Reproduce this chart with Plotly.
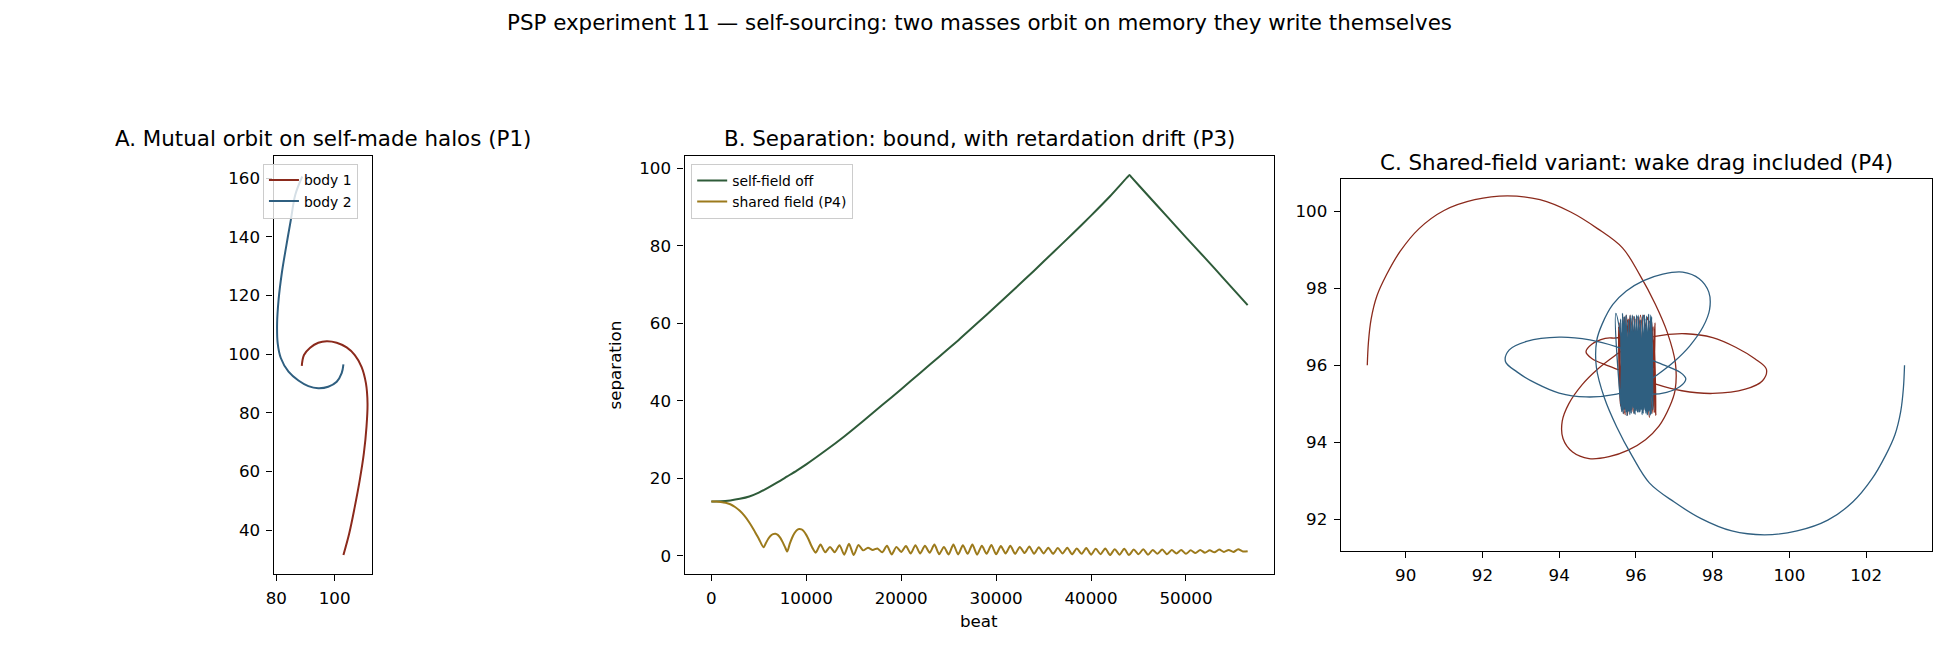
import plotly.graph_objects as go

FONT = "DejaVu Sans"
W, H = 1950, 650

# ---------------- colours ----------------
C_RED = "#8b2a1c"
C_BLUE = "#2f5f80"
C_GREEN = "#2e5b39"
C_GOLD = "#9c7a1c"

# ---------------- Panel A: mutual orbit (P1) ----------------
a_body1_x = [88.75, 89.5, 91.6, 94.4, 97.3, 100.7, 104.1, 106.9, 109.2, 110.7, 111.25, 110.9,
             110.0, 108.6, 106.9, 105.0, 103.0]
a_body1_y = [96.0, 99.7, 102.2, 103.9, 104.4, 103.9, 102.3, 99.7, 95.7, 90.1, 83.2, 75.3,
             66.2, 57.1, 48.0, 38.9, 31.5]
a_body2_x = [103.0, 102.4, 100.7, 97.8, 94.4, 91.0, 87.6, 84.2, 81.6, 80.5, 80.3, 80.8,
             81.9, 83.4, 85.0, 86.5, 88.9]
a_body2_y = [96.5, 93.5, 90.6, 88.9, 88.4, 89.1, 91.0, 94.0, 98.6, 103.7, 110.5, 118.5,
             127.6, 136.7, 145.8, 154.3, 160.6]

# ---------------- Panel B: separation ----------------
b_off_x = [0, 1000, 2000, 3000, 4000, 5000, 6000, 7000, 8000, 9000, 10000, 12000, 14000,
           16000, 18000, 20000, 22000, 24000, 26000, 28000, 30000, 32000, 34000, 36000,
           38000, 40000, 42000, 43850, 44050, 44250, 46000, 48000, 50000, 52000, 54000, 56500]
b_off_y = [14.0, 14.05, 14.3, 14.7, 15.3, 16.3, 17.6, 19.0, 20.5, 22.0, 23.6, 27.1, 30.8,
           34.8, 38.9, 43.0, 47.2, 51.4, 55.6, 60.0, 64.5, 69.0, 73.6, 78.3,
           83.0, 87.8, 92.8, 97.8, 98.3, 97.76, 93.0, 87.6, 82.2, 76.9, 71.5, 64.7]

b_shared_x = [0, 500, 1000, 1500, 2000, 2500, 3000, 3500, 4000, 4500, 5000, 5500, 5750, 6000,
              6250, 6500, 6750, 7000, 7250, 7500, 7750, 8000, 8250, 8500, 8750, 9000, 9250,
              9500, 9750, 10000, 10250, 10500, 10750, 11000,
              11500, 12000, 12500, 13000, 13500, 14000, 14500, 15000, 15500, 16000, 16500,
              17000, 17500, 18000, 18500, 19000, 19500, 20000, 20500, 21000, 21500, 22000,
              22500, 23000, 23500, 24000, 24500, 25000, 25500, 26000, 26500, 27000, 27500,
              28000, 28500, 29000, 29500, 30000, 30500, 31000, 31500, 32000, 32500, 33000,
              33500, 34000, 34500, 35000, 35500, 36000, 36500, 37000, 37500, 38000, 38500,
              39000, 39500, 40000, 40500, 41000, 41500, 42000, 42500, 43000, 43500, 44000,
              44500, 45000, 45500, 46000, 46500, 47000, 47500, 48000, 48500, 49000, 49500,
              50000, 50500, 51000, 51500, 52000, 52500, 53000, 53500, 54000, 54500, 55000,
              55500, 56000, 56500]
b_shared_y = [14.0, 14.0, 13.9, 13.7, 13.3, 12.6, 11.6, 10.3, 8.6, 6.6, 4.4, 2.2, 3.3, 4.4,
              5.2, 5.6, 5.7, 5.4, 4.7, 3.6, 2.3, 1.1, 3.0, 4.6, 5.8, 6.6, 6.9,
              6.8, 6.3, 5.4, 4.2, 2.8, 1.6, 0.8,
              2.9, 0.9, 2.3, 0.9, 2.75, 0.3, 3.1, 0.2, 2.8, 1.4, 2.1,
              1.5, 1.9, 0.9, 2.6, 0.35, 2.3, 1.0, 2.5, 0.6, 2.75, 0.6,
              2.6, 0.8, 2.9, 0.4, 2.3, 0.35, 2.9, 0.35, 2.7, 0.5, 2.9,
              0.3, 2.6, 0.5, 2.8, 0.4, 2.5, 0.6, 2.6, 0.5, 2.3, 0.7,
              2.4, 0.5, 2.2, 0.6, 2.1, 0.5, 2.0, 0.6, 2.1, 0.4, 1.9,
              0.5, 2.0, 0.3, 1.8, 0.4, 1.9, 0.2, 1.7, 0.3, 1.8, 0.2,
              1.6, 0.4, 1.7, 0.3, 1.5, 0.5, 1.6, 0.4, 1.5, 0.6, 1.5,
              0.5, 1.4, 0.7, 1.5, 0.8, 1.4, 0.9, 1.6, 1.0, 1.5, 1.0,
              1.7, 1.1, 1.2]

# ---------------- Panel C: shared-field variant (P4) ----------------
c_body1_x = [89.0, 89.03, 89.1, 89.25, 89.5, 89.85, 90.35, 91.0, 91.8, 92.65, 93.5, 94.3, 95.0,
             95.65, 96.1, 96.5, 96.82, 97.03, 97.02, 96.88, 96.6, 96.25, 95.8, 95.3, 94.78,
             94.35, 94.1, 94.08, 94.25, 94.6, 95.0, 95.45, 95.9, 96.5, 97.3, 98.0, 98.6, 99.1,
             99.4, 99.3, 98.85, 98.0, 97.2, 96.5, 95.9, 95.3, 94.85, 94.7, 94.85, 95.2, 95.6,
             95.7, 95.62, 95.85, 95.78, 96.0, 96.1, 96.3, 96.42, 96.5, 96.35, 96.2, 96.05,
             95.9, 95.68, 95.55, 95.6, 95.75, 95.9, 96.05, 96.25, 96.4, 96.52, 96.45, 96.3,
             96.12, 95.95, 95.8, 95.62, 95.58, 95.72, 95.92, 96.18, 96.35, 96.48, 96.3, 96.0]
c_body1_y = [96.0, 96.6, 97.2, 97.8, 98.35, 98.95, 99.55, 100.02, 100.3, 100.4, 100.3, 99.98,
             99.55, 99.05, 98.35, 97.6, 96.85, 96.05, 95.35, 94.93, 94.42, 94.07, 93.8, 93.63,
             93.58, 93.75, 94.1, 94.55, 95.0, 95.5, 95.9, 96.25, 96.55, 96.75, 96.82, 96.72,
             96.47, 96.17, 95.9, 95.6, 95.38, 95.27, 95.34, 95.52, 95.75, 95.98, 96.18, 96.35,
             96.55, 96.7, 96.75,
             97.25, 94.85, 97.3, 94.7, 97.2, 94.9, 97.25, 94.75, 97.1, 94.65, 97.3, 94.8,
             97.15, 94.75, 97.0, 94.95, 97.3, 94.8, 97.25, 94.85, 97.2, 94.7, 97.0, 94.9,
             97.3, 94.75, 97.2, 94.9, 97.1, 94.72, 97.28, 94.82, 97.15, 94.78, 97.2, 95.0]

c_body2_x = [103.0, 102.97, 102.9, 102.75, 102.5, 102.15, 101.65, 101.0, 100.2, 99.35, 98.5,
             97.7, 97.0, 96.35, 95.9, 95.5, 95.18, 94.97, 94.98, 95.12, 95.4, 95.75, 96.2,
             96.7, 97.22, 97.65, 97.9, 97.92, 97.75, 97.4, 97.0, 96.55, 96.1, 95.5, 94.7,
             94.0, 93.4, 92.9, 92.6, 92.7, 93.15, 94.0, 94.8, 95.5, 96.1, 96.7, 97.15, 97.3,
             97.15, 96.8, 96.4, 96.0,
             95.48, 95.63, 95.60, 95.67, 95.65, 95.72, 95.70, 95.77, 95.74, 95.82, 95.80, 95.88,
             95.85, 95.93, 95.90, 95.98, 95.96, 96.04, 96.01, 96.09, 96.06, 96.14, 96.11, 96.19,
             96.17, 96.25, 96.22, 96.30, 96.27, 96.35, 96.33, 96.40, 96.38, 96.44,
             96.41, 96.37, 96.39, 96.32, 96.33, 96.26, 96.28, 96.21, 96.23, 96.16, 96.18, 96.11,
             96.12, 96.05, 96.07, 96.0, 96.02, 95.95, 95.96, 95.89, 95.91, 95.84, 95.86, 95.79,
             95.81, 95.74, 95.75, 95.68, 95.70, 95.63, 95.65, 95.60]
c_body2_y = [96.0, 95.4, 94.8, 94.2, 93.65, 93.05, 92.45, 91.98, 91.7, 91.6, 91.7, 92.02,
             92.45, 92.95, 93.65, 94.4, 95.15, 95.95, 96.65, 97.07, 97.58, 97.93, 98.2, 98.37,
             98.42, 98.25, 97.9, 97.45, 97.0, 96.5, 96.1, 95.75, 95.45, 95.25, 95.18, 95.28,
             95.53, 95.83, 96.1, 96.4, 96.62, 96.73, 96.66, 96.48, 96.25, 96.02, 95.82, 95.65,
             95.45, 95.3, 95.25, 95.3,
             97.35, 94.8, 97.2, 94.75, 97.35, 94.85, 97.25, 94.7, 97.3, 94.8, 97.15, 94.75,
             97.3, 94.9, 97.2, 94.72, 97.28, 94.8, 97.22, 94.78, 97.3, 94.85, 97.18, 94.75,
             97.25, 94.8, 97.3, 94.72, 97.2, 94.82, 97.32, 94.75, 97.15, 94.85,
             97.25, 94.7, 97.3, 94.8, 97.2, 94.75, 97.28, 94.85, 97.22, 94.72, 97.3, 94.8,
             97.18, 94.78, 97.26, 94.82, 97.3, 94.75, 97.2, 94.85, 97.3, 94.72, 97.24, 94.8,
             97.18, 94.78, 97.3, 94.86, 97.2, 94.8, 97.1, 95.0]

# ---------------- tick values / labels ----------------
a_xticks = [80, 100]
a_yticks = [40, 60, 80, 100, 120, 140, 160]
b_xticks = [0, 10000, 20000, 30000, 40000, 50000]
b_xlabels = ["0", "10000", "20000", "30000", "40000", "50000"]
b_yticks = [0, 20, 40, 60, 80, 100]
c_xticks = [90, 92, 94, 96, 98, 100, 102]
c_yticks = [92, 94, 96, 98, 100]

titles = {
    "sup": "PSP experiment 11 — self-sourcing: two masses orbit on memory they write themselves",
    "A": "A. Mutual orbit on self-made halos (P1)",
    "B": "B. Separation: bound, with retardation drift (P3)",
    "C": "C. Shared-field variant: wake drag included (P4)",
}

# ---------------- figure ----------------
fig = go.Figure()

fig.add_trace(go.Scatter(x=a_body1_x, y=a_body1_y, mode="lines", name="body 1",
                         line=dict(color=C_RED, width=2, shape="spline", smoothing=1),
                         xaxis="x", yaxis="y", legend="legend"))
fig.add_trace(go.Scatter(x=a_body2_x, y=a_body2_y, mode="lines", name="body 2",
                         line=dict(color=C_BLUE, width=2, shape="spline", smoothing=1),
                         xaxis="x", yaxis="y", legend="legend"))

fig.add_trace(go.Scatter(x=b_off_x, y=b_off_y, mode="lines", name="self-field off",
                         line=dict(color=C_GREEN, width=2, shape="spline", smoothing=0.6),
                         xaxis="x2", yaxis="y2", legend="legend2"))
fig.add_trace(go.Scatter(x=b_shared_x, y=b_shared_y, mode="lines", name="shared field (P4)",
                         line=dict(color=C_GOLD, width=2, shape="spline", smoothing=0.7),
                         xaxis="x2", yaxis="y2", legend="legend2"))

fig.add_trace(go.Scatter(x=c_body1_x, y=c_body1_y, mode="lines", showlegend=False,
                         line=dict(color=C_RED, width=1.3, shape="spline", smoothing=1),
                         xaxis="x3", yaxis="y3"))
fig.add_trace(go.Scatter(x=c_body2_x, y=c_body2_y, mode="lines", showlegend=False,
                         line=dict(color=C_BLUE, width=1.3, shape="spline", smoothing=1),
                         xaxis="x3", yaxis="y3"))


def px_x(p):
    return p / W


def px_y(p):
    return 1 - p / H


tick_font = dict(family=FONT, size=16.7, color="black")
axis_common = dict(showline=True, mirror=True, linecolor="black", linewidth=1.3,
                   ticks="outside", ticklen=6, tickwidth=1.3, tickcolor="black",
                   showgrid=False, zeroline=False, tickfont=tick_font,
                   ticklabelstandoff=3)

fig.update_layout(
    width=W, height=H, autosize=False,
    margin=dict(l=0, r=0, t=0, b=0, pad=0),
    paper_bgcolor="white", plot_bgcolor="white",
    font=dict(family=FONT, color="black"),
    xaxis=dict(domain=[px_x(266.7), px_x(365.7)], range=[79.1, 112.85], anchor="y",
               tickvals=a_xticks, **axis_common),
    yaxis=dict(domain=[px_y(574), px_y(156)], range=[25.0, 167.6], anchor="x",
               tickvals=a_yticks, **axis_common),
    xaxis2=dict(domain=[px_x(679.3), px_x(1271.7)], range=[-2825, 59325], anchor="y2",
                tickvals=b_xticks, ticktext=b_xlabels, **axis_common),
    yaxis2=dict(domain=[px_y(574), px_y(156)], range=[-4.7, 103.2], anchor="x2",
                tickvals=b_yticks, **axis_common),
    xaxis3=dict(domain=[px_x(1338.3), px_x(1931.7)], range=[88.31, 103.71], anchor="y3",
                tickvals=c_xticks, **axis_common),
    yaxis3=dict(domain=[px_y(551), px_y(179.3)], range=[91.18, 100.83], anchor="x3",
                tickvals=c_yticks, **axis_common),
    legend=dict(x=px_x(256), y=px_y(163.5), xanchor="left", yanchor="top",
                bgcolor="rgba(255,255,255,0.8)", bordercolor="#cccccc", borderwidth=1,
                font=dict(family=FONT, size=13.9, color="black"), itemwidth=30,
                tracegroupgap=0),
    legend2=dict(x=px_x(686), y=px_y(164), xanchor="left", yanchor="top",
                 bgcolor="rgba(255,255,255,0.8)", bordercolor="#cccccc", borderwidth=1,
                 font=dict(family=FONT, size=13.9, color="black"), itemwidth=30,
                 tracegroupgap=0),
    showlegend=True,
)

TITLE_SIZE = 21.4
ann = []
ann.append(dict(text=titles["sup"], x=px_x(975), y=px_y(22), xref="paper", yref="paper",
                xanchor="center", yanchor="middle", showarrow=False,
                font=dict(family=FONT, size=TITLE_SIZE, color="black")))
ann.append(dict(text=titles["A"], x=px_x(316.2), y=px_y(139), xref="paper", yref="paper",
                xanchor="center", yanchor="middle", showarrow=False,
                font=dict(family=FONT, size=TITLE_SIZE, color="black")))
ann.append(dict(text=titles["B"], x=px_x(975.5), y=px_y(139), xref="paper", yref="paper",
                xanchor="center", yanchor="middle", showarrow=False,
                font=dict(family=FONT, size=TITLE_SIZE, color="black")))
ann.append(dict(text=titles["C"], x=px_x(1635), y=px_y(162), xref="paper", yref="paper",
                xanchor="center", yanchor="middle", showarrow=False,
                font=dict(family=FONT, size=TITLE_SIZE, color="black")))
ann.append(dict(text="separation", x=px_x(610), y=px_y(365), xref="paper", yref="paper",
                xanchor="center", yanchor="middle", showarrow=False, textangle=-90,
                font=dict(family=FONT, size=16.7, color="black")))
ann.append(dict(text="beat", x=px_x(975.5), y=px_y(621), xref="paper", yref="paper",
                xanchor="center", yanchor="middle", showarrow=False,
                font=dict(family=FONT, size=16.7, color="black")))
fig.update_layout(annotations=ann)

fig.write_html("out.html")
